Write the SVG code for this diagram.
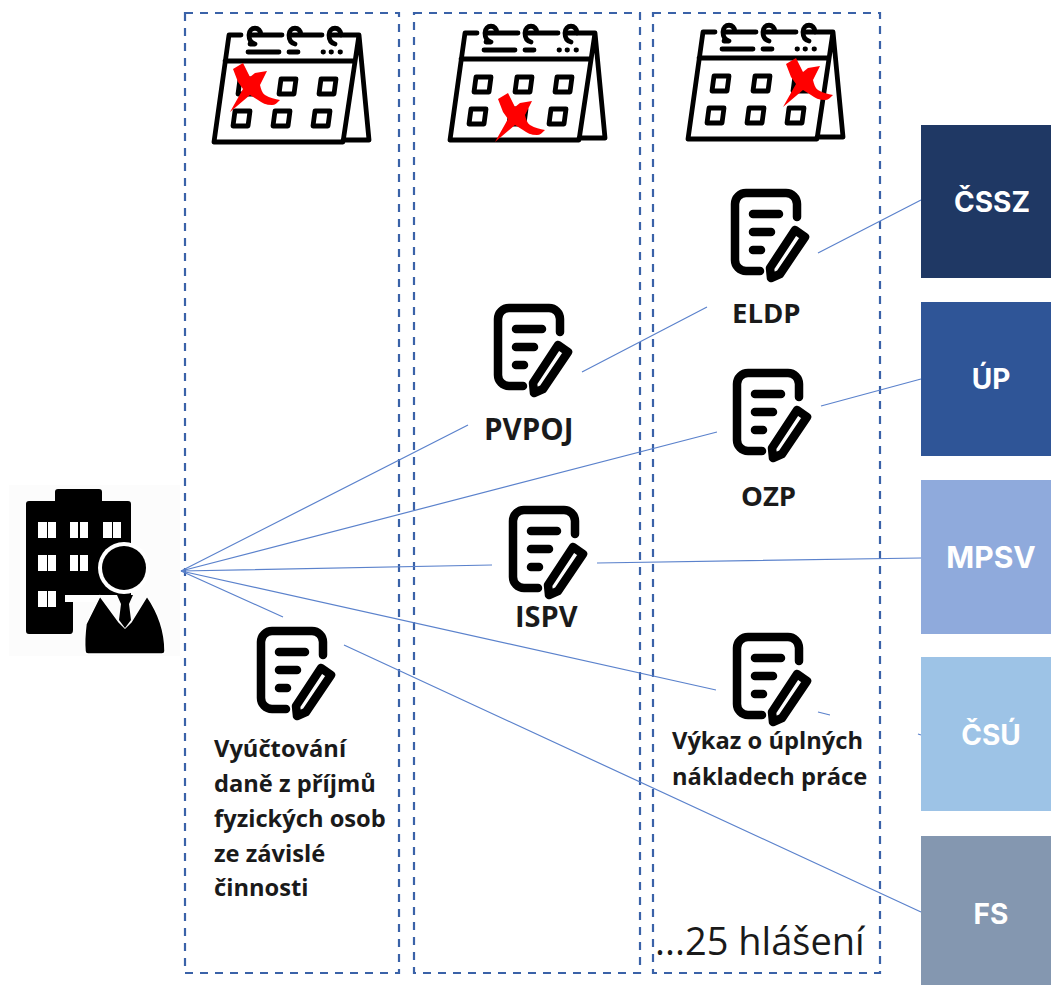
<svg xmlns="http://www.w3.org/2000/svg" width="1051" height="985" viewBox="0 0 1051 985">
<style>
.lane{fill:none;stroke:#3a62a8;stroke-width:2.2;stroke-dasharray:8 7}
.c{fill:none;stroke:#5b82cc;stroke-width:1.2}
.l{font-family:"Open Sans","Liberation Sans",sans-serif;font-weight:700;font-size:23.7px;fill:#1a1a1a}
.b{font-family:Inter,"Liberation Sans",sans-serif;font-weight:700;font-size:28px;fill:#fff;text-anchor:middle}
.d{fill:none;stroke:#000;stroke-width:8.5;stroke-linecap:round;stroke-linejoin:round}
.k{fill:none;stroke:#000;stroke-width:4.8;stroke-linecap:round;stroke-linejoin:round}
.x{fill:#f00}
</style>
<defs>
<symbol id="doc" overflow="visible">
<path class="d" d="M66 28V15A11 11 0 0 0 55 4H15A11 11 0 0 0 4 15V71A11 11 0 0 0 15 82H29"/>
<path class="d" d="M22 25H48M22 43H40M22 61H30"/>
<path class="d" d="M64 41L74 48L49 85L40 89L39 79Z"/>
</symbol>
<symbol id="cal" overflow="visible">
<path class="k" d="M29 7H17L2 114H131L147 7H118M147 7L157 112H131M13 33H143"/>
<path class="k" d="M49 7C49 -2 37 -2 37 7C37 12 39 15 43 16H38M38 7H70M89 7C89 -2 77 -2 77 7C77 12 79 15 83 16M78 7H110M129 7C129 -2 117 -2 117 7C117 12 119 15 123 16"/>
<path class="k" d="M36 24H67M77 24H86M111 24H111.500M119 24H119.500M128 24H128.500"/>
<path class="k" d="M28 51H43L41 66H26ZM69 51H84L82 66H67ZM109 51H124L122 66H107ZM23 83H38L36 98H21ZM63 83H78L76 98H61ZM103 83H118L116 98H101Z"/>
</symbol>
<symbol id="xm" overflow="visible">
<path class="x" d="M-17 -18L-7 -24L0 -10L5 -14L17 -16L10 -2C11 2 12 6 15 8C20 11 25 12 30 13C27 16 25 18 22 18C16 18 12 16 8 13L0 8L-20 25L-7 2L-12 -5Z"/>
</symbol>
</defs>
<rect width="1051" height="985" fill="#fff"/>
<g id="lanes">
<rect class="lane" x="185" y="13" width="214" height="960"/>
<rect class="lane" x="414" y="13" width="226" height="960"/>
<rect class="lane" x="653" y="13" width="227" height="960"/>
</g>
<g id="calendars">
<g id="cal1"><use href="#cal" x="212" y="28"/><use href="#xm" x="250" y="87"/></g>
<g id="cal2"><use href="#cal" x="448" y="26"/><use href="#xm" x="515" y="117"/></g>
<g id="cal3"><use href="#cal" x="686" y="25"/><use href="#xm" x="803" y="82"/></g>
</g>
<g id="connectors">
<path class="c" d="M181 571L468 425M582 372L707 307M818 253L921 200"/>
<path class="c" d="M181 571L717 432M821 406L921 379"/>
<path class="c" d="M181 571L492 565M597 563L921 558"/>
<path class="c" d="M181 571L716 690M818 712L830 715M918 734L921 735"/>
<path class="c" d="M181 571L283 617M344 645L921 912"/>
</g>
<g id="employer">
<rect x="9" y="485" width="171" height="171" fill="#fcfcfc"/>
<path d="M26 504Q26 501 29 501H55V492Q55 489 58 489H99Q102 489 102 492V501H128Q131 501 131 504V595H73V630Q73 634 70 634H29Q26 634 26 631Z" fill="#000"/>
<path d="M38 522h9v16h-9zM48 522h8v16h-8zM70 522h8v16h-8zM80 522h8v16h-8zM103 522h9v16h-9zM113 522h8v16h-8zM38 555h9v16h-9zM48 555h8v16h-8zM70 555h8v16h-8zM80 555h8v16h-8zM38 591h9v16h-9zM48 591h8v16h-8z" fill="#fff"/>
<path d="M65 595H110V602H65Z" fill="#fff"/>
<circle cx="124" cy="568" r="26" fill="#fff"/>
<circle cx="124" cy="568" r="22" fill="#000"/>
<path d="M100 596L86 624Q84 640 85 651Q85 654 88 654H162Q165 654 165 651C165 630 158 612 147 596L131 622L125 628L119 622Z" fill="#000" stroke="#fff" stroke-width="1.500"/>
<path d="M117 595H133L129 604L131 620L125 628L119 620L121 604Z" fill="#000"/>
</g>
<g id="vyuctovani"><use href="#doc" x="257" y="627"/>
<text class="l"><tspan x="214" y="757">Vyúčtování</tspan><tspan x="214" y="792">daně z příjmů</tspan><tspan x="214" y="827">fyzických osob</tspan><tspan x="214" y="862">ze závislé</tspan><tspan x="214" y="896">činnosti</tspan></text></g>
<g id="pvpoj"><use href="#doc" x="494" y="304"/><text class="l" style="font-size:29.5px" x="484" y="440">PVPOJ</text></g>
<g id="ispv"><use href="#doc" x="509" y="506"/><text class="l" style="font-size:29px" x="515" y="627">ISPV</text></g>
<g id="eldp"><use href="#doc" x="731" y="189"/><text class="l" style="font-size:27.5px" x="732" y="323">ELDP</text></g>
<g id="ozp"><use href="#doc" x="733" y="369"/><text class="l" style="font-size:27.5px" x="741" y="506">OZP</text></g>
<g id="vykaz"><use href="#doc" x="733" y="633"/>
<text class="l"><tspan x="672" y="749">Výkaz o úplných</tspan><tspan x="672" y="785">nákladech práce</tspan></text></g>
<text id="count" x="655" y="955" font-family="Open Sans,Liberation Sans,sans-serif" font-size="38" fill="#1a1a1a">...25 hlášení</text>
<g id="cssz"><rect x="921" y="125" width="130" height="153" fill="#1f3864"/><text class="b" x="992" y="212">ČSSZ</text></g>
<g id="up"><rect x="921" y="302" width="130" height="154" fill="#2f5597"/><text class="b" x="991" y="389">ÚP</text></g>
<g id="mpsv"><rect x="921" y="480" width="130" height="154" fill="#8faadc"/><text class="b" style="font-size:30px" x="991" y="568">MPSV</text></g>
<g id="csu"><rect x="921" y="657" width="130" height="154" fill="#9dc3e6"/><text class="b" x="991" y="745">ČSÚ</text></g>
<g id="fs"><rect x="921" y="836" width="130" height="149" fill="#8497b0"/><text class="b" x="991" y="924">FS</text></g>
</svg>
